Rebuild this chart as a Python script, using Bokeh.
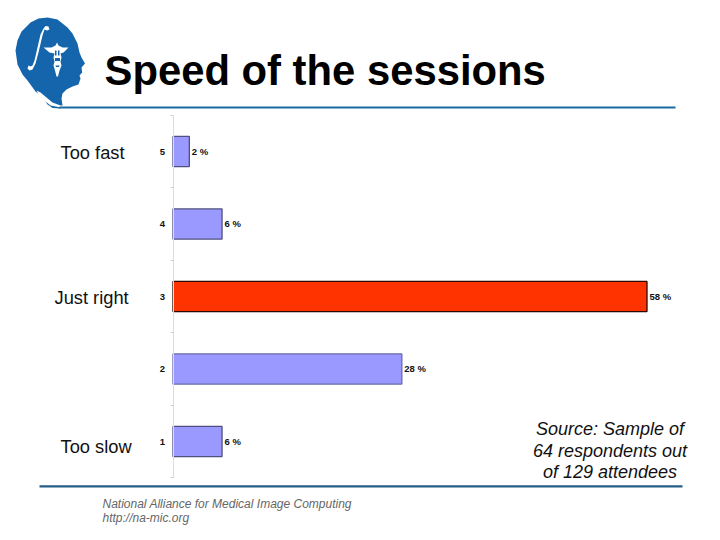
from bokeh.plotting import figure
from bokeh.models import ColumnDataSource, FixedTicker, Label, PolyAnnotation, Range1d
from bokeh.core.properties import value
from bokeh.embed import file_html
from bokeh.resources import INLINE

categories = [5, 4, 3, 2, 1]
percents = [2, 6, 58, 28, 6]
fills = ["#9999ff", "#9999ff", "#ff3300", "#9999ff", "#9999ff"]
outlines = ["#4f4f80", "#4f4f80", "#2a0a00", "#6a6aa8", "#4f4f80"]
value_labels = ["2 %", "6 %", "58 %", "28 %", "6 %"]
side_labels = ["Too fast", "Just right", "Too slow"]
source_lines = ["Source: Sample of", "64 respondents out", "of 129 attendees"]
footer_lines = ["National Alliance for Medical Image Computing", "http://na-mic.org"]
title = "Speed of the sessions"

W, H = 720, 540
X0, PX_PER_PCT = 172.5, 474 / 58
Y5, PX_PER_CAT = 151, 72.5

p = figure(width=W, height=H, output_backend="svg", toolbar_location=None,
           x_range=Range1d(-X0 / PX_PER_PCT, (W - X0) / PX_PER_PCT),
           y_range=Range1d(5 - (H - Y5) / PX_PER_CAT, 5 + Y5 / PX_PER_CAT),
           min_border_left=0, min_border_right=0, min_border_top=0, min_border_bottom=0)
p.outline_line_color = None
p.background_fill_color = "white"
p.grid.visible = False
p.xaxis.visible = False

ax = p.yaxis[0]
ax.fixed_location = 0
ax.ticker = FixedTicker(ticks=categories, minor_ticks=[0.5, 1.5, 2.5, 3.5, 4.5, 5.5])
ax.bounds = (0.5, 5.5)
ax.axis_line_color = "#dcdcdc"
ax.major_tick_line_color = None
ax.major_tick_out = 0
ax.major_tick_in = 0
ax.minor_tick_line_color = "#cfcfcf"
ax.minor_tick_out = 3
ax.minor_tick_in = 0
ax.major_label_standoff = 5
ax.major_label_text_font = "Liberation Sans"
ax.major_label_text_font_style = "bold"
ax.major_label_text_font_size = "9.5px"
ax.major_label_text_color = "#111111"

src = ColumnDataSource(dict(cat=categories, pct=percents, fill=fills, line=outlines, lab=value_labels))
p.hbar(y="cat", right="pct", left=0, height=0.415, fill_color="fill", line_color="line",
       line_width=1.3, source=src)
p.text(x="pct", y="cat", text="lab", x_offset=2.5, y_offset=-0.5, text_baseline="middle", text_align="left",
       text_font=value("Liberation Sans"), text_font_style="bold", text_font_size="9.5px",
       text_color="#111111", source=src)


def poly(pts, color):
    p.add_layout(PolyAnnotation(xs=[a for a, b in pts], ys=[H - b for a, b in pts],
                                xs_units="screen", ys_units="screen",
                                fill_color=color, fill_alpha=1, line_color=None))


def text(x, y, s, size, align="left", style="normal", color="black"):
    p.add_layout(Label(x=x, y=H - y, x_units="screen", y_units="screen", text=s,
                       text_font="Liberation Sans", text_font_size=size, text_font_style=style,
                       text_color=color, text_align=align, text_baseline="alphabetic"))


BLUE = "#1565ad"
# rules
poly([(58, 106), (675, 106), (675, 108), (58, 108)], "#1a69a0")
poly([(39, 484.7), (682, 484.7), (682, 487), (39, 487)], "#245d85")
# head
poly([(47, 17), (57, 19), (67, 27), (72, 33), (77, 43), (79, 52), (81, 57), (84.5, 63), (81, 67),
      (81.7, 72), (79, 75), (80, 78), (78, 84), (72, 86), (66, 89), (62, 93), (61, 98), (62, 105),
      (55, 105), (47, 102), (40, 95), (35, 91), (27, 80), (22, 74), (17, 64), (15, 50), (17, 40),
      (21, 31), (30, 22), (38, 18)], BLUE)
# neck swoosh
poly([(36, 90), (40, 92), (46, 97), (52, 102), (60, 105), (58, 107), (50, 105), (44, 100), (38, 94)], "#ffffff")
poly([(45, 101), (50, 105), (58, 106.5), (60, 108), (52, 107.5), (47, 104)], "#1a69a0")
# integral sign
poly([(48, 26), (49, 29), (46.5, 30), (44, 29), (42, 35), (38, 52), (35, 63), (32, 69), (29, 70),
      (27, 68), (28, 65), (30, 66), (32, 65), (34, 60), (37, 47), (40, 34), (43, 28), (45, 25.5)], "#ffffff")
# caduceus
poly([(43, 47), (51, 47), (55, 45), (56.5, 42), (58, 45), (62, 47), (68, 47), (63, 52), (60, 53), (61, 57),
      (60, 61), (61, 65), (59, 70), (57.5, 76), (56, 76), (54.5, 70), (53, 65), (54, 61), (53, 57), (54, 53), (49, 52)], "#ffffff")
poly([(54.5, 57.5), (59.5, 57.5), (59.5, 60.5), (54.5, 60.5)], BLUE)
poly([(54.5, 50), (56, 50), (56, 55), (54.5, 55)], BLUE)
poly([(57.5, 50), (59, 50), (59, 55), (57.5, 55)], BLUE)
poly([(55, 65), (59, 65), (58.5, 66.5), (55.5, 66.5)], BLUE)

# title, side labels and notes
text(104, 70, title, "41.8px", style="bold")
for y, s, x in zip([152, 297, 446], side_labels, [60, 54, 60]):
    text(x, y, s, "18.3px", color="#111111")
for y, s in zip([428, 450, 471], source_lines):
    text(609.5, y, s, "18px", align="center", style="italic", color="#111111")
for y, s in zip([503, 517], footer_lines):
    text(102, y, s, "12px", style="italic", color="#666666")

open("out.html", "w").write(file_html(p, INLINE))
